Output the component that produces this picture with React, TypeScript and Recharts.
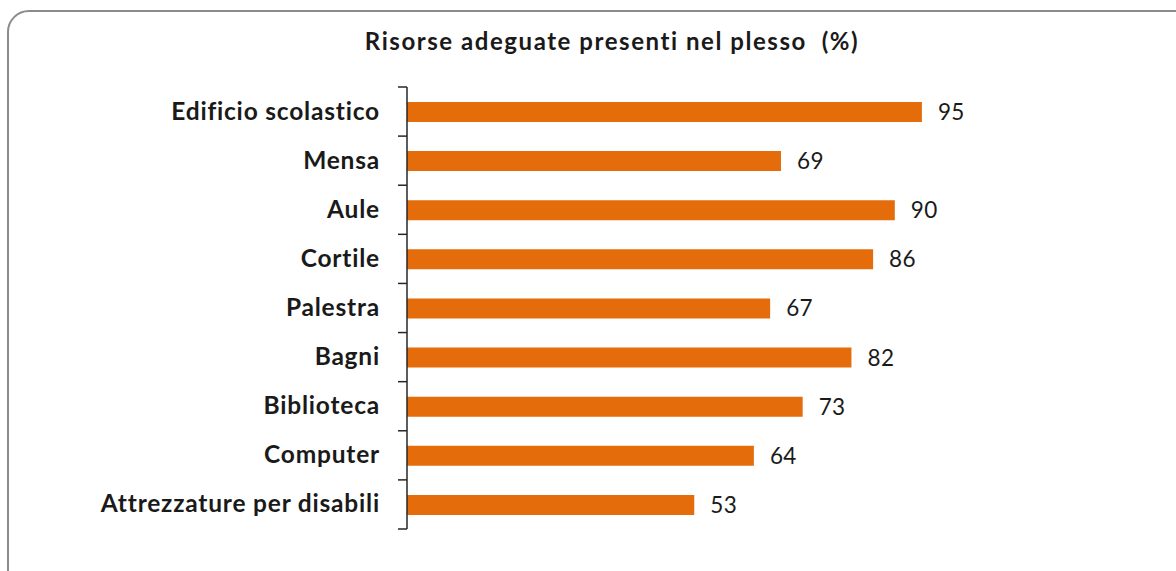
import React from "react";
import { BarChart, Bar, XAxis, YAxis, LabelList } from "recharts";

const categories = [
  "Edificio scolastico",
  "Mensa",
  "Aule",
  "Cortile",
  "Palestra",
  "Bagni",
  "Biblioteca",
  "Computer",
  "Attrezzature per disabili",
];
const values = [95, 69, 90, 86, 67, 82, 73, 64, 53];
const title = "Risorse adeguate presenti nel plesso  (%)";

const data = categories.map((name, i) => ({ name, value: values[i] }));

const W = 1176;
const H = 571;
const AXIS_X = 407;
const TOP = 87;
const BOTTOM = 529;
const RIGHT = 949;
const BAND = (BOTTOM - TOP) / categories.length;
const FONT = "Lato, 'Open Sans', sans-serif";

const Tick = (props: any) => {
  const { y, payload, index } = props;
  const last = index === categories.length - 1;
  return (
    <g>
      <line x1={AXIS_X - 9} x2={AXIS_X} y1={y - BAND / 2} y2={y - BAND / 2} stroke="#262626" strokeWidth={1.5} />
      {last && (
        <line x1={AXIS_X - 9} x2={AXIS_X} y1={y + BAND / 2} y2={y + BAND / 2} stroke="#262626" strokeWidth={1.5} />
      )}
      <text
        x={AXIS_X - 27}
        y={y}
        dy={8}
        textAnchor="end"
        fontFamily={FONT}
        fontWeight="bold"
        fontSize={24.5}
        letterSpacing={0.8}
        fill="#1a1a1a"
      >
        {payload.value}
      </text>
    </g>
  );
};

export default function App() {
  return (
    <div
      style={{
        position: "fixed",
        left: 0,
        top: 0,
        width: W,
        height: H,
        overflow: "hidden",
        background: "#fff",
      }}
    >
      <div
        style={{
          position: "absolute",
          left: 7,
          top: 10,
          width: 1200,
          height: 600,
          border: "2px solid #8c8c8c",
          borderRadius: 22,
          boxSizing: "border-box",
        }}
      />
      <svg width={W} height={70} style={{ position: "absolute", left: 0, top: 0 }}>
        <text
          x={612}
          y={50}
          textAnchor="middle"
          fontFamily={FONT}
          fontWeight="bold"
          fontSize={24}
          letterSpacing={1.55}
          fill="#1a1a1a"
          style={{ whiteSpace: "pre" }}
        >
          {title}
        </text>
      </svg>
      <div style={{ position: "absolute", left: 0, top: 0 }}>
        <BarChart
          width={W}
          height={H}
          data={data}
          layout="vertical"
          margin={{ top: TOP, bottom: H - BOTTOM, left: 0, right: W - RIGHT }}
          barCategoryGap={0}
        >
          <XAxis type="number" domain={[0, 100]} hide />
          <YAxis
            type="category"
            dataKey="name"
            width={AXIS_X}
            axisLine={{ stroke: "#262626", strokeWidth: 1.5 }}
            tickLine={false}
            tick={<Tick />}
            interval={0}
          />
          <Bar dataKey="value" fill="#E46C0A" barSize={20} isAnimationActive={false}>
            <LabelList
              dataKey="value"
              position="right"
              offset={16}
              fontFamily={FONT}
              fontSize={22.5}
              letterSpacing={0.4}
              fill="#1a1a1a"
            />
          </Bar>
        </BarChart>
      </div>
    </div>
  );
}
